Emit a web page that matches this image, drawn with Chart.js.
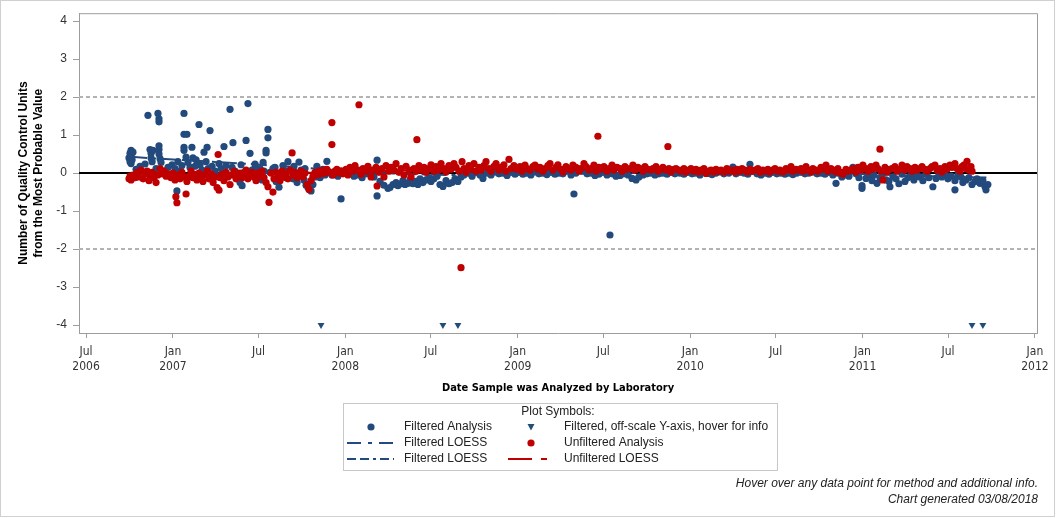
<!DOCTYPE html>
<html lang="en">
<head>
<meta charset="UTF-8">
<title>Quality Control Units by Date Analyzed</title>
<script src="https://cdn.jsdelivr.net/npm/chart.js"></script>
<style>
  body { margin: 0; background: #fff; }
  #wrap { position: relative; width: 1056px; height: 518px; }
</style>
</head>
<body>
<div id="wrap"><canvas id="qcChart"></canvas></div>
<script>
// x values are decimal years (date the sample was analyzed), y values are QC units
const xTickValues = [2006.496, 2007, 2007.496, 2008, 2008.496, 2009, 2009.496, 2010, 2010.496, 2011, 2011.496, 2012];
const xTickLabels = [['Jul','2006'],['Jan','2007'],['Jul',''],['Jan','2008'],['Jul',''],['Jan','2009'],['Jul',''],['Jan','2010'],['Jul',''],['Jan','2011'],['Jul',''],['Jan','2012']];
const yTickValues = [-4, -3, -2, -1, 0, 1, 2, 3, 4];
const refLines = [2, 0, -2];

const filteredPoints = [
  [2006.745,0.40],[2006.751,0.52],[2006.751,0.30],[2006.757,0.60],[2006.757,0.45],[2006.757,0.25],[2006.763,0.35],[2006.768,0.55],
  [2006.786,0.10],[2006.809,0.18],[2006.838,0.24],[2006.855,1.52],[2006.867,0.62],[2006.873,0.52],[2006.873,0.40],[2006.879,0.30],[2006.884,0.60],
  [2006.902,0.12],[2006.913,1.57],[2006.919,1.43],[2006.919,1.35],[2006.919,0.72],[2006.919,0.62],[2006.919,0.50],[2006.925,0.38],[2006.931,0.28],
  [2006.954,0.05],[2006.971,0.15],[2006.995,0.22],[2007.012,0.12],[2007.023,-0.47],[2007.029,0.30],[2007.041,0.05],[2007.052,0.20],
  [2007.064,1.57],[2007.064,1.02],[2007.081,1.02],[2007.064,0.68],[2007.064,0.60],[2007.076,0.42],[2007.087,0.28],[2007.099,0.15],
  [2007.110,0.68],[2007.116,0.40],[2007.128,0.18],[2007.134,0.35],[2007.151,1.28],[2007.157,0.22],[2007.169,0.08],[2007.180,0.55],[2007.192,0.30],[2007.198,0.68],[2007.204,0.12],[2007.215,1.12],[2007.227,0.18],
  [2007.244,0.05],[2007.262,-0.08],[2007.267,0.25],[2007.279,0.12],[2007.296,0.70],[2007.308,0.20],[2007.319,-0.05],[2007.331,1.68],[2007.343,0.15],[2007.348,0.80],[2007.360,0.05],[2007.372,-0.12],[2007.389,-0.25],[2007.395,0.22],[2007.401,-0.33],[2007.412,0.02],[2007.424,0.86],[2007.435,1.83],[2007.447,0.52],[2007.459,0.08],[2007.470,0.10],[2007.476,0.24],[2007.488,-0.08],
  [2007.505,0.12],[2007.517,-0.18],[2007.523,0.28],[2007.528,0.05],[2007.540,0.60],[2007.540,0.53],[2007.551,1.15],[2007.551,0.93],[2007.563,0.02],[2007.580,0.12],[2007.592,0.15],[2007.598,-0.22],[2007.615,-0.37],[2007.627,-0.05],[2007.638,0.20],[2007.644,0.08],[2007.656,-0.12],[2007.667,0.30],[2007.685,0.10],[2007.696,-0.15],[2007.702,0.18],[2007.708,-0.05],[2007.720,-0.25],[2007.731,0.29],[2007.743,0.08],[2007.760,-0.18],[2007.766,0.12],[2007.772,-0.32],[2007.783,-0.38],[2007.801,-0.47],[2007.812,-0.30],[2007.824,-0.10],[2007.835,0.18],[2007.841,0.05],[2007.853,-0.12],[2007.870,0.10],[2007.882,-0.05],[2007.893,0.31],[2007.905,0.02],[2007.922,-0.05],[2007.940,0.00],[2007.957,-0.08],[2007.975,-0.68],
  [2008.004,0.02],[2008.027,0.00],[2008.050,-0.08],[2008.073,-0.05],[2008.097,-0.12],[2008.120,-0.02],[2008.143,0.05],[2008.166,-0.10],[2008.184,0.34],[2008.184,-0.60],[2008.201,-0.22],[2008.224,-0.32],[2008.247,-0.40],[2008.259,-0.38],[2008.276,-0.30],[2008.294,-0.25],[2008.305,-0.33],[2008.323,-0.28],[2008.334,-0.20],[2008.346,-0.30],[2008.363,-0.27],[2008.375,-0.18],[2008.392,-0.28],[2008.410,-0.22],[2008.421,-0.30],[2008.433,-0.15],[2008.450,-0.25],[2008.468,-0.18],[2008.485,-0.12],[2008.497,-0.22],[2008.514,-0.15],[2008.532,-0.08],[2008.549,-0.30],[2008.566,-0.35],[2008.584,-0.20],[2008.601,-0.28],[2008.619,-0.25],[2008.636,-0.15],[2008.653,-0.22],[2008.671,-0.10],[2008.688,-0.05],[2008.711,0.00],[2008.735,-0.08],[2008.758,0.02],[2008.781,-0.05],[2008.798,0.16],[2008.798,-0.14],[2008.822,0.00],[2008.845,-0.05],[2008.868,0.03],[2008.891,-0.02],[2008.914,0.00],[2008.938,-0.06],[2008.961,0.02],[2008.984,-0.03],
  [2009.007,0.02],[2009.030,-0.03],[2009.053,0.00],[2009.076,-0.05],[2009.100,0.03],[2009.123,-0.02],[2009.146,0.00],[2009.169,-0.04],[2009.193,0.02],[2009.216,-0.03],[2009.239,0.00],[2009.262,-0.02],[2009.285,0.05],[2009.309,-0.05],[2009.326,-0.55],[2009.338,0.00],[2009.361,0.10],[2009.378,0.05],[2009.402,-0.02],[2009.425,0.00],[2009.448,-0.06],[2009.471,-0.03],[2009.494,0.02],[2009.518,-0.05],[2009.535,-1.63],[2009.547,-0.02],[2009.570,-0.08],[2009.593,-0.06],[2009.616,-0.02],[2009.640,-0.05],[2009.663,-0.14],[2009.686,-0.18],[2009.703,-0.10],[2009.727,-0.05],[2009.750,-0.02],[2009.773,0.00],[2009.796,-0.05],[2009.819,-0.02],[2009.842,0.00],[2009.866,-0.03],[2009.889,0.02],[2009.912,-0.02],[2009.941,0.00],[2009.964,-0.03],[2009.987,0.02],
  [2010.011,-0.02],[2010.034,0.00],[2010.057,-0.05],[2010.080,0.02],[2010.103,-0.01],[2010.127,-0.04],[2010.150,0.00],[2010.173,0.03],[2010.196,-0.02],[2010.225,0.00],[2010.248,0.16],[2010.266,-0.02],[2010.289,0.02],[2010.312,0.00],[2010.335,-0.03],[2010.347,0.23],[2010.364,0.05],[2010.388,-0.02],[2010.411,-0.05],[2010.434,0.00],[2010.457,-0.03],[2010.480,0.02],[2010.503,-0.02],[2010.527,0.00],[2010.550,-0.03],[2010.573,0.00],[2010.596,-0.04],[2010.619,0.00],
  [2010.643,0.02],[2010.666,-0.02],[2010.689,0.00],[2010.712,0.03],[2010.736,-0.02],[2010.759,0.00],[2010.782,-0.03],[2010.805,0.02],[2010.828,-0.05],[2010.846,-0.27],[2010.857,0.00],[2010.880,-0.10],[2010.898,-0.05],[2010.921,-0.08],[2010.944,0.15],[2010.962,-0.02],[2010.979,-0.12],[2010.997,-0.40],[2010.997,-0.33],
  [2011.020,-0.14],[2011.037,-0.08],[2011.055,-0.20],[2011.066,-0.05],[2011.084,-0.27],[2011.101,-0.12],[2011.118,-0.02],[2011.136,-0.18],[2011.153,-0.22],[2011.159,-0.36],[2011.176,-0.10],[2011.194,-0.15],[2011.211,-0.28],[2011.229,-0.03],[2011.246,-0.22],[2011.263,-0.12],[2011.281,-0.05],[2011.298,-0.18],[2011.316,-0.08],[2011.333,-0.10],[2011.350,-0.20],[2011.368,-0.03],[2011.385,-0.12],[2011.408,-0.36],[2011.426,-0.14],[2011.443,-0.05],[2011.460,-0.10],[2011.478,-0.02],[2011.495,-0.15],[2011.513,-0.08],[2011.536,-0.44],[2011.536,-0.20],[2011.553,-0.05],[2011.571,-0.10],[2011.582,-0.25],[2011.600,-0.18],[2011.617,-0.12],[2011.635,-0.30],[2011.652,-0.22],[2011.664,-0.15],[2011.681,-0.27],[2011.698,-0.20],[2011.710,-0.35],[2011.716,-0.44],[2011.727,-0.30]
];

// filtered results below the y-axis floor, shown pinned at -4
const offScalePoints = [[2007.859,-4],[2008.566,-4],[2008.653,-4],[2011.635,-4],[2011.698,-4]];

const unfilteredPoints = [
  [2006.745,-0.15],[2006.751,-0.08],[2006.757,-0.18],[2006.768,-0.05],[2006.780,-0.12],[2006.792,0.02],[2006.803,-0.10],[2006.815,0.08],[2006.827,-0.15],[2006.838,-0.02],[2006.850,0.05],[2006.861,-0.20],[2006.867,-0.08],[2006.879,0.02],[2006.890,-0.12],[2006.902,-0.25],[2006.913,-0.05],[2006.925,0.12],[2006.937,-0.02],[2006.948,0.05],[2006.960,-0.08],[2006.971,-0.02],[2006.989,-0.12],
  [2007.000,0.00],[2007.012,-0.18],[2007.017,-0.62],[2007.023,-0.78],[2007.029,-0.05],[2007.041,-0.15],[2007.052,0.02],[2007.064,-0.10],[2007.076,-0.55],[2007.081,-0.22],[2007.093,-0.08],[2007.105,0.05],[2007.116,-0.12],[2007.128,-0.03],[2007.139,-0.18],[2007.151,0.00],[2007.163,-0.10],[2007.174,-0.22],[2007.186,-0.05],[2007.198,0.05],[2007.209,-0.15],[2007.221,-0.02],[2007.233,-0.25],[2007.244,-0.10],[2007.256,-0.38],[2007.262,0.49],[2007.267,-0.45],[2007.273,-0.12],[2007.285,-0.03],[2007.296,-0.20],[2007.308,0.02],[2007.319,-0.10],[2007.331,-0.30],[2007.343,-0.05],[2007.354,0.05],[2007.366,-0.15],[2007.377,-0.08],[2007.389,0.00],[2007.401,-0.12],[2007.412,-0.03],[2007.424,0.08],[2007.435,-0.15],[2007.447,-0.05],[2007.459,0.02],[2007.470,-0.10],[2007.482,-0.20],[2007.493,0.00],
  [2007.505,-0.08],[2007.517,0.05],[2007.528,-0.12],[2007.540,-0.25],[2007.551,-0.36],[2007.557,-0.77],[2007.569,0.00],[2007.580,-0.50],[2007.586,-0.15],[2007.598,0.02],[2007.609,-0.08],[2007.621,-0.20],[2007.633,0.05],[2007.644,-0.10],[2007.656,-0.02],[2007.667,-0.15],[2007.679,0.08],[2007.691,0.53],[2007.696,-0.05],[2007.708,0.02],[2007.720,-0.12],[2007.731,-0.02],[2007.743,0.05],[2007.754,-0.10],[2007.766,0.00],[2007.778,-0.30],[2007.789,-0.43],[2007.801,-0.20],[2007.812,-0.08],[2007.824,0.02],[2007.836,-0.05],[2007.847,0.05],[2007.859,-0.02],[2007.870,0.08],[2007.882,0.00],[2007.893,0.10],[2007.905,0.03],[2007.922,1.33],[2007.922,0.75],[2007.928,-0.05],[2007.940,0.05],[2007.951,0.10],[2007.963,0.00],[2007.975,0.06],[2007.986,-0.02],
  [2008.004,0.10],[2008.015,-0.05],[2008.027,0.15],[2008.044,0.05],[2008.056,0.20],[2008.073,0.08],[2008.079,1.80],[2008.091,-0.03],[2008.102,0.12],[2008.120,0.05],[2008.131,0.18],[2008.149,-0.10],[2008.160,0.08],[2008.178,0.15],[2008.184,-0.34],[2008.195,0.02],[2008.213,0.12],[2008.224,-0.10],[2008.236,0.20],[2008.253,0.05],[2008.265,0.15],[2008.282,0.08],[2008.294,0.25],[2008.311,0.02],[2008.323,0.12],[2008.340,-0.05],[2008.352,0.18],[2008.369,0.08],[2008.381,-0.10],[2008.398,0.12],[2008.410,0.05],[2008.415,0.88],[2008.427,0.20],[2008.439,0.08],[2008.456,0.15],[2008.468,0.02],[2008.485,0.12],[2008.497,0.22],
  [2008.514,0.05],[2008.526,0.17],[2008.543,0.08],[2008.555,0.25],[2008.572,0.12],[2008.584,0.03],[2008.601,0.20],[2008.613,0.10],[2008.630,0.25],[2008.642,0.15],[2008.659,0.05],[2008.671,-2.49],[2008.677,0.30],[2008.688,0.12],[2008.700,0.02],[2008.717,0.20],[2008.729,0.10],[2008.746,0.25],[2008.758,0.05],[2008.775,0.15],[2008.787,0.08],[2008.804,0.20],[2008.816,0.30],[2008.833,0.12],[2008.845,0.05],[2008.862,0.18],[2008.874,0.25],[2008.891,0.08],[2008.903,0.15],[2008.920,0.22],[2008.932,0.05],[2008.949,0.36],[2008.961,0.12],[2008.978,0.20],
  [2008.996,0.10],[2009.013,0.17],[2009.025,0.05],[2009.042,0.21],[2009.054,0.12],[2009.071,0.08],[2009.088,0.17],[2009.100,0.21],[2009.117,0.10],[2009.129,0.15],[2009.146,0.05],[2009.158,0.12],[2009.175,0.20],[2009.187,0.25],[2009.204,0.08],[2009.222,0.15],[2009.233,0.22],[2009.251,0.10],[2009.262,0.03],[2009.280,0.17],[2009.291,0.12],[2009.309,0.08],[2009.320,0.21],[2009.338,0.15],[2009.355,0.05],[2009.367,0.12],[2009.384,0.25],[2009.396,0.17],[2009.413,0.08],[2009.425,0.12],[2009.442,0.21],[2009.454,0.05],[2009.465,0.97],[2009.471,0.15],[2009.483,0.10],
  [2009.500,0.17],[2009.518,0.05],[2009.529,0.12],[2009.547,0.21],[2009.558,0.08],[2009.576,0.15],[2009.593,0.12],[2009.605,0.05],[2009.622,0.17],[2009.634,0.10],[2009.651,0.12],[2009.668,0.21],[2009.680,0.08],[2009.697,0.15],[2009.709,0.12],[2009.727,0.05],[2009.738,0.17],[2009.756,0.10],[2009.773,0.08],[2009.784,0.12],[2009.802,0.17],[2009.813,0.05],[2009.831,0.10],[2009.842,0.15],[2009.860,0.08],[2009.871,0.70],[2009.877,0.12],[2009.889,0.03],[2009.906,0.10],[2009.918,0.12],[2009.935,0.08],[2009.947,0.05],[2009.964,0.12],[2009.976,0.03],[2009.993,0.08],
  [2010.005,0.12],[2010.022,0.05],[2010.034,0.10],[2010.051,0.03],[2010.063,0.08],[2010.080,0.12],[2010.092,-0.01],[2010.109,0.05],[2010.121,0.08],[2010.138,0.03],[2010.150,0.10],[2010.167,0.05],[2010.179,0.08],[2010.196,0.03],[2010.213,0.12],[2010.225,0.05],[2010.243,0.08],[2010.260,0.03],[2010.272,0.10],[2010.289,0.05],[2010.301,0.12],[2010.318,0.08],[2010.330,0.03],[2010.347,0.10],[2010.359,0.05],[2010.376,0.08],[2010.393,0.12],[2010.405,0.02],[2010.422,0.08],[2010.434,0.05],[2010.451,0.10],[2010.463,0.03],[2010.480,0.08],[2010.492,0.12],
  [2010.509,0.05],[2010.521,0.08],[2010.538,0.03],[2010.556,0.12],[2010.567,0.08],[2010.585,0.17],[2010.596,0.05],[2010.614,0.10],[2010.625,0.08],[2010.643,0.12],[2010.654,0.05],[2010.672,0.17],[2010.683,0.08],[2010.701,0.03],[2010.712,0.12],[2010.730,0.08],[2010.741,0.05],[2010.759,0.15],[2010.770,0.10],[2010.788,0.21],[2010.799,0.05],[2010.817,0.12],[2010.828,0.08],[2010.846,0.03],[2010.857,0.12],[2010.875,0.00],[2010.886,-0.03],[2010.904,0.10],[2010.915,0.05],[2010.933,0.08],[2010.944,0.12],[2010.962,0.03],[2010.973,0.15],[2010.991,0.08],
  [2011.002,0.21],[2011.020,0.12],[2011.031,0.05],[2011.049,0.17],[2011.060,0.10],[2011.078,0.21],[2011.089,0.12],[2011.101,0.63],[2011.107,0.05],[2011.118,-0.18],[2011.130,0.15],[2011.142,0.03],[2011.159,0.10],[2011.171,0.12],[2011.188,0.17],[2011.200,0.05],[2011.217,0.10],[2011.229,0.21],[2011.246,0.08],[2011.258,0.17],[2011.275,0.12],[2011.287,0.05],[2011.304,0.15],[2011.316,0.08],[2011.333,0.12],[2011.345,0.17],[2011.362,0.10],[2011.374,0.05],[2011.391,0.12],[2011.403,0.17],[2011.420,0.21],[2011.432,0.08],[2011.449,0.12],[2011.461,0.03],[2011.478,0.17],[2011.490,0.10],
  [2011.507,0.21],[2011.519,0.15],[2011.536,0.25],[2011.548,0.12],[2011.565,0.05],[2011.577,0.17],[2011.588,0.21],[2011.600,0.12],[2011.606,0.31],[2011.617,0.08],[2011.629,0.17],[2011.635,0.05]
];

const filteredLoess = [[2006.757,0.43],[2006.913,0.38],[2007.0,0.36],[2007.157,0.32],[2007.447,0.24],[2007.737,0.15],[2007.992,0.06],[2008.317,-0.02],[2008.607,-0.05],[2008.984,-0.02],[2009.477,0.0],[2010.057,0.0],[2010.637,0.02],[2010.973,-0.02],[2011.391,-0.08],[2011.727,-0.12]];
const unfilteredLoess = [[2006.745,-0.08],[2007.157,-0.05],[2007.737,0.0],[2007.992,0.04],[2008.491,0.08],[2008.984,0.11],[2009.477,0.11],[2010.057,0.08],[2010.637,0.07],[2011.217,0.10],[2011.635,0.11]];

const BLUE = '#224a7d';
const TRI_BLUE = '#1f4e79';
const RED = '#c00000';
const SANS = "'Liberation Sans', Arial, sans-serif";
const NARROW = "'Liberation Sans Narrow', 'Arial Narrow', 'DejaVu Sans Condensed', sans-serif";

const toXY = pts => pts.map(p => ({ x: p[0], y: p[1] }));

// reference lines at +/-2 (dashed) and 0 (solid), drawn under the points
const refLinePlugin = {
  id: 'refLines',
  beforeDatasetsDraw(chart) {
    const { ctx, chartArea, scales } = chart;
    ctx.save();
    refLines.forEach(v => {
      const py = Math.round(scales.y.getPixelForValue(v));
      ctx.beginPath();
      ctx.lineWidth = 2;
      if (v === 0) { ctx.strokeStyle = '#000'; ctx.setLineDash([]); }
      else { ctx.strokeStyle = '#b3b3b3'; ctx.setLineDash([4, 3]); }
      ctx.moveTo(chartArea.left, py);
      ctx.lineTo(chartArea.right, py);
      ctx.stroke();
    });
    ctx.restore();
  }
};

function drawSample(ctx, item, cx, x0, x1, y) {
  ctx.save();
  if (item.kind === 'dot') {
    ctx.fillStyle = item.color;
    ctx.beginPath(); ctx.arc(cx, y, 3.6, 0, Math.PI * 2); ctx.fill();
  } else if (item.kind === 'tri') {
    ctx.fillStyle = item.color;
    ctx.beginPath();
    ctx.moveTo(cx - 3.5, y - 3); ctx.lineTo(cx + 3.5, y - 3); ctx.lineTo(cx, y + 3.5);
    ctx.closePath(); ctx.fill();
  } else {
    ctx.strokeStyle = item.color;
    ctx.lineWidth = 2;
    ctx.setLineDash(item.dash);
    ctx.beginPath(); ctx.moveTo(x0, y); ctx.lineTo(x1, y); ctx.stroke();
  }
  ctx.restore();
}

const legendItems = [
  [{ kind: 'dot', color: BLUE, text: 'Filtered Analysis' }, { kind: 'tri', color: TRI_BLUE, text: 'Filtered, off-scale Y-axis, hover for info' }],
  [{ kind: 'line', color: BLUE, dash: [14, 7, 4, 7], text: 'Filtered LOESS' }, { kind: 'dot', color: RED, text: 'Unfiltered Analysis' }],
  [{ kind: 'line', color: BLUE, dash: [9, 4, 9, 4, 3, 4], text: 'Filtered LOESS' }, { kind: 'line', color: RED, dash: [24, 9, 6, 40], text: 'Unfiltered LOESS' }]
];

// plot frame, symbol legend box, footer notes and outer border
const decorPlugin = {
  id: 'decor',
  afterDraw(chart) {
    const { ctx, chartArea } = chart;
    ctx.save();
    ctx.strokeStyle = '#9d9d9d';
    ctx.lineWidth = 1;
    ctx.beginPath();
    ctx.moveTo(chartArea.left, chartArea.top + 0.5);
    ctx.lineTo(chartArea.right + 0.5, chartArea.top + 0.5);
    ctx.lineTo(chartArea.right + 0.5, chartArea.bottom);
    ctx.stroke();

    ctx.strokeStyle = '#d0d0d0';
    ctx.strokeRect(0.5, 0.5, 1054, 516);

    ctx.strokeStyle = '#c8c8c8';
    ctx.strokeRect(343.5, 403.5, 434, 67);

    ctx.fillStyle = '#222';
    ctx.font = '12px ' + SANS;
    ctx.textBaseline = 'middle';
    ctx.textAlign = 'center';
    ctx.fillText('Plot Symbols:', 558, 412);
    ctx.textAlign = 'left';
    const rowY = [427, 443, 459];
    const cols = [
      { cx: 371, x0: 347, x1: 394, tx: 404 },
      { cx: 531, x0: 508, x1: 547, tx: 564 }
    ];
    legendItems.forEach((row, r) => {
      row.forEach((item, c) => {
        const col = cols[c];
        drawSample(ctx, item, col.cx, col.x0, col.x1, rowY[r]);
        ctx.fillStyle = '#222';
        ctx.fillText(item.text, col.tx, rowY[r]);
      });
    });

    ctx.font = 'italic 12px ' + SANS;
    ctx.textAlign = 'right';
    ctx.fillText('Hover over any data point for method and additional info.', 1038, 484);
    ctx.fillText('Chart generated 03/08/2018', 1038, 500);
    ctx.restore();
  }
};

new Chart(document.getElementById('qcChart'), {
  type: 'scatter',
  data: {
    datasets: [
      { label: 'Unfiltered LOESS', data: toXY(unfilteredLoess), showLine: true, pointRadius: 0, borderColor: RED, borderWidth: 2, borderDash: [20, 6, 6, 6], order: 0 },
      { label: 'Unfiltered Analysis', data: toXY(unfilteredPoints), pointRadius: 3.6, pointBorderWidth: 0, backgroundColor: RED, borderColor: RED, order: 1 },
      { label: 'Filtered LOESS', data: toXY(filteredLoess), showLine: true, pointRadius: 0, borderColor: BLUE, borderWidth: 2, borderDash: [16, 5, 4, 5], order: 2 },
      { label: 'Filtered, off-scale Y-axis', data: toXY(offScalePoints), pointStyle: 'triangle', rotation: 180, pointRadius: 4, pointBorderWidth: 0, backgroundColor: TRI_BLUE, borderColor: TRI_BLUE, order: 3 },
      { label: 'Filtered Analysis', data: toXY(filteredPoints), pointRadius: 3.6, pointBorderWidth: 0, backgroundColor: BLUE, borderColor: BLUE, order: 4 }
    ]
  },
  options: {
    responsive: true,
    maintainAspectRatio: false,
    animation: false,
    layout: { padding: { top: 12, right: 19, bottom: 123, left: 0 } },
    plugins: {
      legend: { display: false },
      tooltip: { enabled: true }
    },
    scales: {
      x: {
        type: 'linear',
        min: 2006.455,
        max: 2012.012,
        afterBuildTicks: s => { s.ticks = xTickValues.map(v => ({ value: v })); },
        afterFit: s => { s.height = 62; },
        ticks: {
          autoSkip: false,
          maxRotation: 0,
          padding: 6,
          color: '#333',
          font: { family: NARROW, size: 12, lineHeight: 1.25 },
          callback: (v, i) => xTickLabels[i]
        },
        grid: { drawOnChartArea: false, drawTicks: true, tickLength: 5, color: '#9d9d9d' },
        border: { color: '#9d9d9d' },
        title: {
          display: true,
          text: 'Date Sample was Analyzed by Laboratory',
          color: '#000',
          font: { family: NARROW, size: 11, weight: 'bold', lineHeight: 1.25 },
          padding: { top: 4, bottom: 0 }
        }
      },
      y: {
        min: -4.21,
        max: 4.21,
        afterBuildTicks: s => { s.ticks = yTickValues.map(v => ({ value: v })); },
        afterFit: s => { s.width = 79; },
        ticks: { padding: 6, color: '#333', font: { family: SANS, size: 12 }, callback: v => String(v) },
        grid: { drawOnChartArea: false, drawTicks: true, tickLength: 6, color: '#9d9d9d' },
        border: { color: '#9d9d9d' },
        title: {
          display: true,
          text: ['Number of Quality Control Units', 'from the Most Probable Value'],
          color: '#000',
          font: { family: SANS, size: 12, weight: 'bold', lineHeight: 1.25 },
          padding: { top: 16, bottom: 0 }
        }
      }
    }
  },
  plugins: [refLinePlugin, decorPlugin]
});
</script>
</body>
</html>
